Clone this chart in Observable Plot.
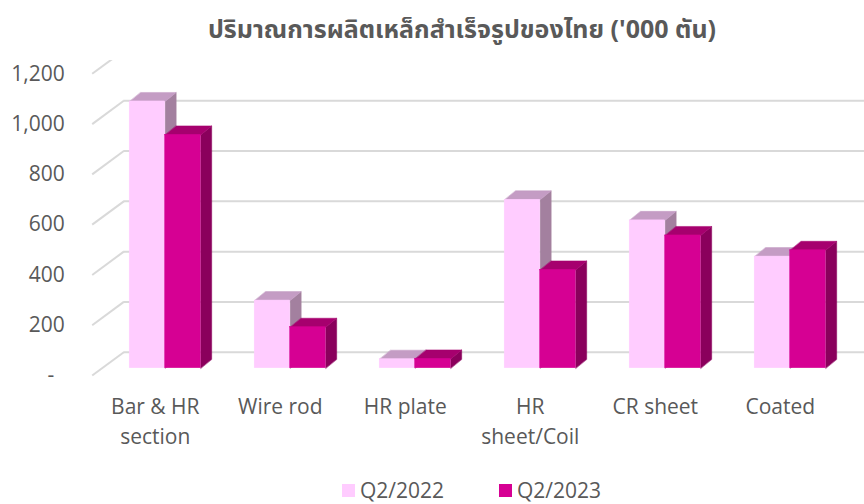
<!DOCTYPE html>
<html>
<head>
<meta charset="utf-8">
<script src="https://cdn.jsdelivr.net/npm/d3@7"></script>
<script src="https://cdn.jsdelivr.net/npm/@observablehq/plot@0.6"></script>
<style>
  html, body { margin: 0; padding: 0; background: #fff; }
  #wrap { width: 864px; height: 504px; position: relative; overflow: hidden; font-family: "Open Sans", "Noto Sans", sans-serif; color: #595959; }
  #title { height: 60px; line-height: 60px; text-align: center; font-weight: bold; font-size: 25px; font-family: "Noto Sans Thai", "Leelawadee UI", Tahoma, "Open Sans", sans-serif; padding-left: 60px; box-sizing: border-box; white-space: nowrap; }
  #legend { position: absolute; top: 477px; left: 0; width: 864px; height: 26px; font-size: 21px; }
  .item { position: absolute; top: 0; display: flex; align-items: center; height: 26px; line-height: 26px; }
  .sw { width: 13px; height: 13px; margin-right: 5px; }
</style>
</head>
<body>
<div id="wrap">
  <div id="title"></div>
  <div id="chart"></div>
  <div id="legend"></div>
</div>
<script>
const titleText = "ปริมาณการผลิตเหล็กสำเร็จรูปของไทย ('000 ตัน)";
const categories = ["Bar & HR\nsection", "Wire rod", "HR plate", "HR\nsheet/Coil", "CR sheet", "Coated"];
const seriesNames = ["Q2/2022", "Q2/2023"];
const q2_2022 = [1061, 269, 36, 670, 588, 444];
const q2_2023 = [928, 163, 37, 391, 528, 469];
const yTicks = [0, 200, 400, 600, 800, 1000, 1200];
const yTickLabels = ["-\u2002", "200", "400", "600", "800", "1,000", "1,200"];

// face colours per series: front, top, side
const faceColors = [
  {front: "#FFCCFF", top: "#C49CC4", side: "#A3809F"},
  {front: "#D60093", top: "#A6006E", side: "#8A005C"}
];

// 3D geometry (in data units)
const WALL_DX = 0.2528, WALL_DY = 92.7;   // depth of the plot box
const BAR_DX = 0.088, BAR_DY = 35.8;      // depth of each bar
const BAR_W = 0.284;
const LEFT_X = -0.584;

document.getElementById("title").textContent = titleText;

const seriesValues = [q2_2022, q2_2023];
const barMarks = [];
seriesValues.forEach((vals, s) => {
  const rects = [], tops = [], sides = [];
  vals.forEach((v, i) => {
    const x1 = s === 0 ? i - BAR_W : i;
    const x2 = s === 0 ? i : i + BAR_W;
    rects.push({x1, x2, v});
    const id = s + "-" + i;
    tops.push({id, x: x1, y: v}, {id, x: x2, y: v}, {id, x: x2 + BAR_DX, y: v + BAR_DY}, {id, x: x1 + BAR_DX, y: v + BAR_DY});
    sides.push({id, x: x2, y: 0}, {id, x: x2, y: v}, {id, x: x2 + BAR_DX, y: v + BAR_DY}, {id, x: x2 + BAR_DX, y: BAR_DY});
  });
  const c = faceColors[s];
  barMarks.push(
    Plot.line(sides, {x: "x", y: "y", z: "id", curve: "linear-closed", fill: c.side, stroke: c.side, strokeWidth: 0.5, dy: -7.3}),
    Plot.line(tops, {x: "x", y: "y", z: "id", curve: "linear-closed", fill: c.top, stroke: c.top, strokeWidth: 0.5, dy: -7.3}),
    Plot.rect(rects, {x1: "x1", x2: "x2", y1: 0, y2: "v", fill: c.front, stroke: c.front, strokeWidth: 0.5, dy: -7.3})
  );
});

const chart = Plot.plot({
  width: 864,
  height: 400,
  marginTop: 13.3,
  marginBottom: 85,
  marginLeft: 102.2,
  marginRight: 11.8,
  x: {domain: [-0.5, 5.5], axis: null},
  y: {domain: [0, 1200], axis: null},
  style: {fontFamily: "'Open Sans', sans-serif", fontSize: "21px", color: "#595959", background: "white", overflow: "hidden"},
  marks: [
    Plot.ruleY(yTicks, {y: d => d, x1: LEFT_X, x2: 5.6, dx: 31.6, dy: -23.3, stroke: "#D9D9D9", strokeWidth: 2}),
    Plot.link(yTicks, {x1: LEFT_X, y1: d => d, x2: LEFT_X + WALL_DX, y2: d => d + WALL_DY, stroke: "#D9D9D9", strokeWidth: 2}),
    ...barMarks,
    Plot.text(yTicks, {x: LEFT_X, y: d => d, text: (d, i) => yTickLabels[i], textAnchor: "end", dx: -27.4, fill: "#595959", fontSize: 21}),
    Plot.text(categories, {x: (d, i) => i, y: 0, text: d => d, lineAnchor: "top", dx: -9.9, dy: 18, lineHeight: 1.4, fill: "#595959", fontSize: 21})
  ]
});
document.getElementById("chart").appendChild(chart);

const legend = document.getElementById("legend");
const legendLeft = [342, 499];
seriesNames.forEach((name, s) => {
  const item = document.createElement("div");
  item.className = "item";
  item.style.left = legendLeft[s] + "px";
  const sw = document.createElement("div");
  sw.className = "sw";
  sw.style.background = faceColors[s].front;
  const t = document.createElement("span");
  t.textContent = name;
  item.appendChild(sw);
  item.appendChild(t);
  legend.appendChild(item);
});
</script>
</body>
</html>
